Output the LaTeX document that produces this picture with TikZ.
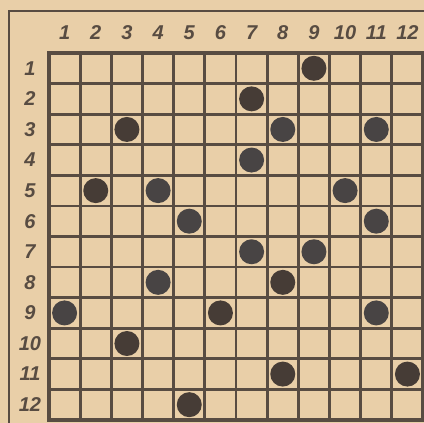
\documentclass[tikz,border=0pt]{standalone}
\usepackage{fontspec}
\setmainfont{Liberation Sans}
\definecolor{paper}{RGB}{233,207,168}
\definecolor{ink}{RGB}{88,76,66}
\definecolor{stone}{RGB}{70,60,54}
\definecolor{greystone}{RGB}{72,68,68}
\begin{document}
\begin{tikzpicture}[x=1pt,y=-1pt,
  lbl/.style={text=ink,font=\fontsize{20}{20}\selectfont\bfseries\itshape,inner sep=0pt},
  stonedot/.style={circle,fill=stone,minimum size=25pt,inner sep=0pt},
  softdot/.style={circle,fill=greystone,minimum size=25pt,inner sep=0pt},
  gridline/.style={draw=ink,line width=2.8pt},
  frameline/.style={draw=ink,line width=2.4pt}]
\fill[paper] (0,0) rectangle (424,423);
\useasboundingbox (0,0) rectangle (424,423);
% outer frame
\coordinate (ftr) at (424,11);
\coordinate (ftl) at (9,11);
\coordinate (fbl) at (9,423);
\draw[frameline] (ftr) -- (ftl) -- (fbl);
% grid
\foreach \i in {0,...,12}{
  \pgfmathsetmacro{\xx}{49+\i*31.17}
  \pgfmathsetmacro{\yy}{53+\i*30.58}
  \draw[gridline] (\xx,53) -- (\xx,420);
  \draw[gridline] (49,\yy) -- (423,\yy);
}
\draw[ink,line width=3.6pt] (49,53) rectangle (423,420);
% labels
\foreach \i in {1,...,12}{
  \pgfmathsetmacro{\xx}{49+(\i-0.5)*31.17}
  \pgfmathsetmacro{\yy}{53+(\i-0.5)*30.58}
  \node[lbl] (col\i) at (\xx,33) {\i};
  \node[lbl] (row\i) at (30,\yy) {\i};
}
% stones
\foreach \c/\r in {9/1,7/2,3/3,2/5,8/8,6/9,3/10,8/11,12/11,5/12}{
  \pgfmathsetmacro{\xx}{49+(\c-0.5)*31.17}
  \pgfmathsetmacro{\yy}{53+(\r-0.5)*30.58}
  \node[stonedot] (s-\c-\r) at (\xx,\yy) {};
}
\foreach \c/\r in {8/3,11/3,7/4,4/5,10/5,5/6,11/6,7/7,9/7,4/8,1/9,11/9}{
  \pgfmathsetmacro{\xx}{49+(\c-0.5)*31.17}
  \pgfmathsetmacro{\yy}{53+(\r-0.5)*30.58}
  \node[softdot] (s-\c-\r) at (\xx,\yy) {};
}
\end{tikzpicture}
\end{document}
